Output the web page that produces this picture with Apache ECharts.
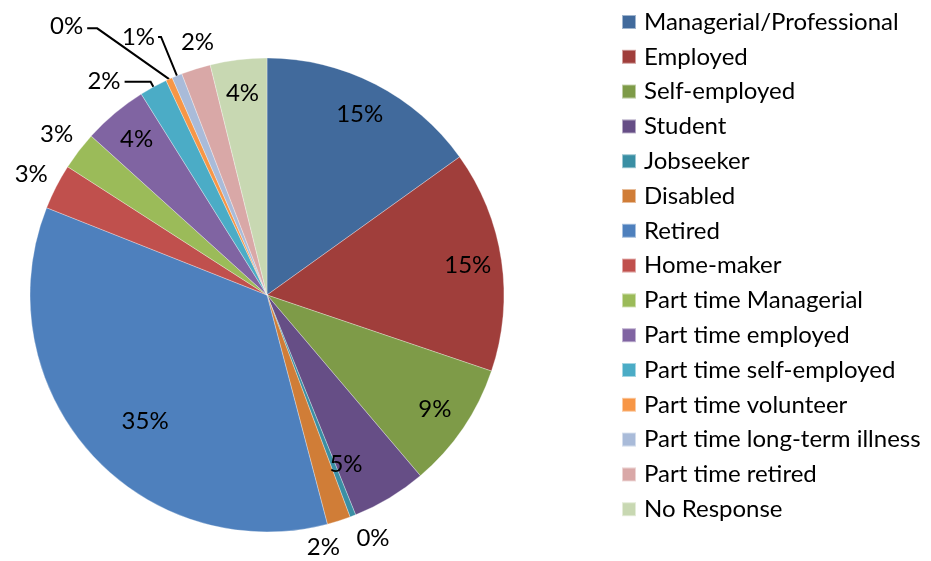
<!DOCTYPE html>
<html>
<head>
<meta charset="utf-8">
<script src="https://cdn.jsdelivr.net/npm/echarts@6/dist/echarts.min.js"></script>
<style>
  html, body { margin: 0; padding: 0; background: #fff; }
  #chart { width: 931px; height: 561px; }
</style>
</head>
<body>
<div id="chart"></div>
<script>
// categories and share of respondents (%)
const categories = [
  'Managerial/Professional', 'Employed', 'Self-employed', 'Student', 'Jobseeker',
  'Disabled', 'Retired', 'Home-maker', 'Part time Managerial', 'Part time employed',
  'Part time self-employed', 'Part time volunteer', 'Part time long-term illness',
  'Part time retired', 'No Response'
]
const values = [15.1, 15.1, 8.6, 5.1, 0.4, 1.6, 35.1, 3.1, 2.6, 4.4, 1.9, 0.45, 0.7, 2.0, 3.85]
const colors = [
  '#416a9c', '#a03e3b', '#7e9b48', '#664e86', '#3a8fa4', '#d07d37', '#4e80bd', '#c0504d',
  '#9bbb59', '#8064a2', '#4bacc6', '#f79646', '#a9bbd9', '#d9a8a7', '#c8d8b2'
]
// where each slice's label sits
const labelPlace = [
  'in', 'in', 'in', 'in', 'out', 'out', 'in', 'out', 'out', 'in',
  'line', 'line', 'line', 'out', 'in'
]
// leader line sizes for the three labels that have one
const leader = {
  'Part time self-employed': [6, 26, 4],
  'Part time volunteer': [58, 58, 4],
  'Part time long-term illness': [42, 3, 3]
}
// small label shifts (px) like the excel "best fit" placement
const nudge = {
  'Student': [-26, -4],
  'Retired': [30, -8],
  'Jobseeker': [10, -4],
  'Disabled': [-24, 0],
  'Part time retired': [10, 0]
}

const font = 'Lato, "Open Sans", sans-serif'
const center = [267, 295]
const R = 237

const chart = echarts.init(document.getElementById('chart'))

const pct = (p) => Math.round(p.value) + '%'

const mainData = categories.map((name, i) => {
  const item = { name: name, value: values[i], itemStyle: { color: colors[i] } }
  if (labelPlace[i] === 'line') {
    const l = leader[name]
    item.label = { show: true, distanceToLabelLine: l[2] }
    item.labelLine = { show: true, length: l[0], length2: l[1] }
  }
  return item
})

const ringData = (place) => categories.map((name, i) => ({
  name: name,
  value: values[i],
  label: { show: labelPlace[i] === place }
}))

// volunteer leader goes straight from the slice to its label (slanted, like excel)
const mainLabelLayout = (params) => {
  if (categories[params.dataIndex] !== 'Part time volunteer' || !params.labelLinePoints) return {}
  const p0 = params.labelLinePoints[0]
  const r = params.labelRect
  const yMid = r.y + r.height / 2 + 2
  return {
    labelLinePoints: [p0, [r.x + r.width + 14, yMid], [r.x + r.width + 4, yMid]]
  }
}

const ghostLabelLayout = (params) => {
  const n = nudge[categories[params.dataIndex]]
  return n ? { dx: n[0], dy: n[1], hideOverlap: false } : { hideOverlap: false }
}

const ghost = {
  type: 'pie',
  center: center,
  startAngle: 90,
  silent: true,
  legendHoverLink: false,
  avoidLabelOverlap: false,
  itemStyle: { color: 'rgba(0,0,0,0)' },
  emphasis: { disabled: true },
  labelLine: { show: false },
  labelLayout: ghostLabelLayout,
  label: {
    position: 'inside',
    formatter: pct,
    color: '#000',
    fontFamily: font,
    fontSize: 24
  }
}

const option = {
  animation: false,
  legend: {
    orient: 'vertical',
    left: 621,
    top: 10,
    padding: 0,
    icon: 'rect',
    itemWidth: 14,
    itemHeight: 14,
    itemGap: 10.8,
    data: categories,
    selectedMode: false,
    textStyle: {
      fontFamily: font,
      fontSize: 24,
      lineHeight: 24,
      color: '#000',
      padding: [0, 0, 0, 3]
    }
  },
  series: [
    {
      type: 'pie',
      name: 'main',
      center: center,
      radius: [0, R],
      startAngle: 90,
      avoidLabelOverlap: false,
      data: mainData,
      itemStyle: { borderColor: 'rgba(255,255,255,0.5)', borderWidth: 0.6 },
      emphasis: { disabled: true },
      labelLayout: mainLabelLayout,
      label: {
        show: false,
        position: 'outside',
        formatter: pct,
        color: '#000',
        fontFamily: font,
        fontSize: 24
      },
      labelLine: {
        show: false,
        lineStyle: { color: '#000', width: 2 }
      }
    },
    Object.assign({}, ghost, { name: 'inner', radius: [163, R], data: ringData('in') }),
    Object.assign({}, ghost, { name: 'outer', radius: [R, R + 50], data: ringData('out') })
  ]
}

chart.setOption(option)
</script>
</body>
</html>
